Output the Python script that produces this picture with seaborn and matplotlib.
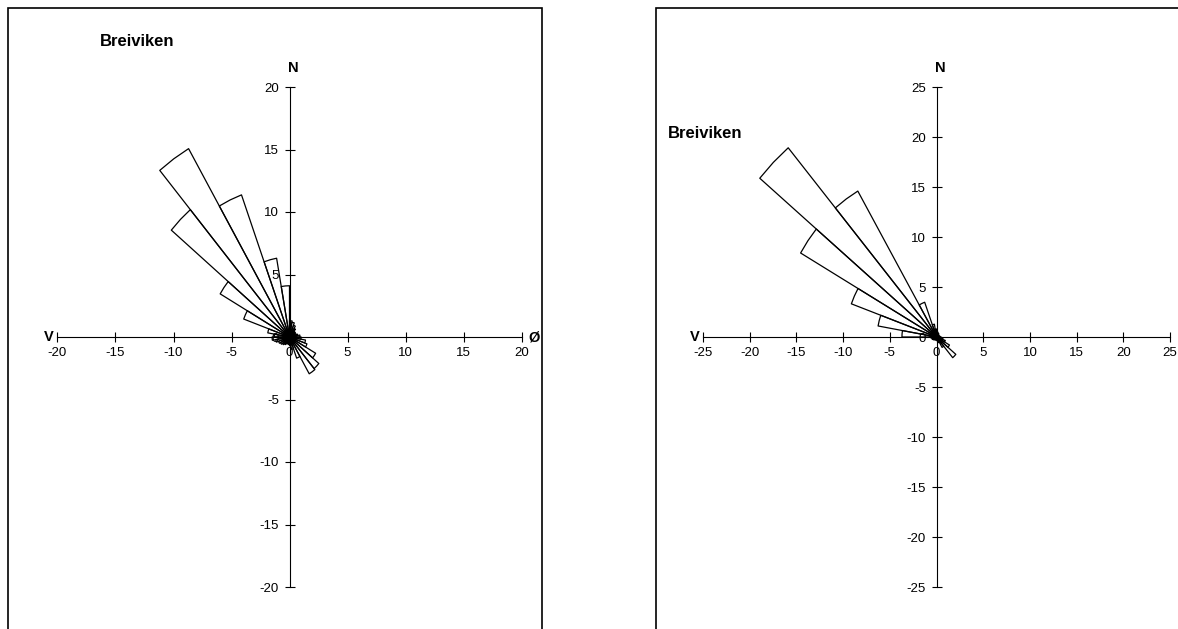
import numpy as np
import pandas as pd
import matplotlib
matplotlib.use("Agg")
import matplotlib.pyplot as plt
from matplotlib.patches import Rectangle
import seaborn as sns

# ===== Data: wind direction frequency (%) per 10 degree sector =====
sector_start = list(range(0, 360, 10))   # bearing where each sector starts (0 = N, clockwise)

freq_left = [1.3, 1.2, 1.0, 0.8, 0.6, 0.6, 0.5, 0.7, 0.9,
             1.0, 1.4, 1.6, 2.6, 3.3, 3.4, 1.8, 1.0, 0.7,
             0.6, 0.5, 0.6, 0.7, 0.8, 0.9, 1.0, 1.2, 1.5,
             1.3, 1.9, 4.2, 6.9, 13.3, 17.4, 12.1, 6.4, 4.1]

freq_right = [0.6, 0.5, 0.4, 0.4, 0.3, 0.3, 0.3, 0.3, 0.4,
              0.5, 0.7, 1.0, 1.6, 2.7, 1.2, 0.6, 0.4, 0.3,
              0.3, 0.3, 0.3, 0.3, 0.4, 0.4, 0.5, 0.5, 0.6,
              3.7, 6.35, 9.7, 16.8, 24.7, 16.85, 3.7, 1.3, 0.8]

title = "Breiviken"
left_lim = 20
right_lim = 25
tick_step = 5


def wedge_frame(starts, freqs, width=10):
    # outline of each sector: origin -> arc (3 pts, like Excel) -> origin
    rows = []
    for s, r in zip(starts, freqs):
        angs = [s, s + width / 2, s + width]
        pts = [(0.0, 0.0)] + [(r * np.sin(np.radians(a)), r * np.cos(np.radians(a))) for a in angs] + [(0.0, 0.0)]
        for k, (x, y) in enumerate(pts):
            rows.append({"sector": s, "order": k, "x": x, "y": y})
    return pd.DataFrame(rows)


sns.set_style("white")
plt.rcParams['font.family'] = ['Liberation Sans', 'DejaVu Sans']
plt.rcParams['text.color'] = 'black'
plt.rcParams['xtick.color'] = 'black'
plt.rcParams['ytick.color'] = 'black'

W, H = 1178, 629
fig = plt.figure(figsize=(W / 100, H / 100), dpi=100)


def px_axes(left, right, top, bottom):
    return fig.add_axes([left / W, 1 - bottom / H, (right - left) / W, (bottom - top) / H])


def draw_rose(ax, freqs, lim, title_xy):
    df = wedge_frame(sector_start, freqs)
    sns.lineplot(data=df, x="x", y="y", units="sector", estimator=None, sort=False,
                 color="black", linewidth=0.9, ax=ax, legend=False)
    ax.set_xlim(-lim, lim)
    ax.set_ylim(-lim, lim)
    ticks = np.arange(-lim, lim + 1, tick_step)
    ax.set_xticks(ticks)
    ax.set_yticks(ticks)
    ax.set_xticklabels([str(t) for t in ticks])
    ax.set_yticklabels([str(t) for t in ticks])
    ax.set_xlabel("")
    ax.set_ylabel("")
    ax.set_facecolor("none")

    for side in ["top", "right"]:
        ax.spines[side].set_visible(False)
    ax.spines["left"].set_position(("data", 0))
    ax.spines["bottom"].set_position(("data", 0))
    for side in ["left", "bottom"]:
        ax.spines[side].set_color("black")
        ax.spines[side].set_linewidth(0.8)

    ax.tick_params(axis="both", direction="inout", length=7, width=0.8, colors="black",
                   labelsize=9.5, bottom=True, left=True)
    ax.tick_params(axis="x", pad=4)
    ax.tick_params(axis="y", pad=4)

    # compass letters
    ax.annotate("N", xy=(0, lim), xytext=(3, 14), textcoords="offset points",
                ha="center", va="center", fontsize=10.5, fontweight="bold")
    ax.annotate("V", xy=(-lim, 0), xytext=(-6, 0), textcoords="offset points",
                ha="center", va="center", fontsize=10.5, fontweight="bold")
    ax.annotate("Ø", xy=(lim, 0), xytext=(5, 0), textcoords="offset points",
                ha="left", va="center", fontsize=10.5, fontweight="bold",
                bbox=dict(facecolor="white", edgecolor="none", pad=0.5))

    fig.text(title_xy[0] / W, 1 - title_xy[1] / H, title, ha="left", va="center",
             fontsize=12, fontweight="bold", color="black")


# chart frames (cropped screenshot of two charts)
fig.add_artist(Rectangle((8 / W, -0.1), (542 - 8) / W, 1.1 - 8 / H, transform=fig.transFigure,
                         fill=False, edgecolor="black", linewidth=1.2, zorder=0))
fig.add_artist(Rectangle((656 / W, -0.1), 1.0, 1.1 - 8 / H, transform=fig.transFigure,
                         fill=False, edgecolor="black", linewidth=1.2, zorder=0))

ax1 = px_axes(57.5, 521.5, 87, 587)
draw_rose(ax1, freq_left, left_lim, (100, 42))

ax2 = px_axes(703, 1170, 87, 587)
draw_rose(ax2, freq_right, right_lim, (668, 133))

fig.savefig("out.png", dpi=100)
